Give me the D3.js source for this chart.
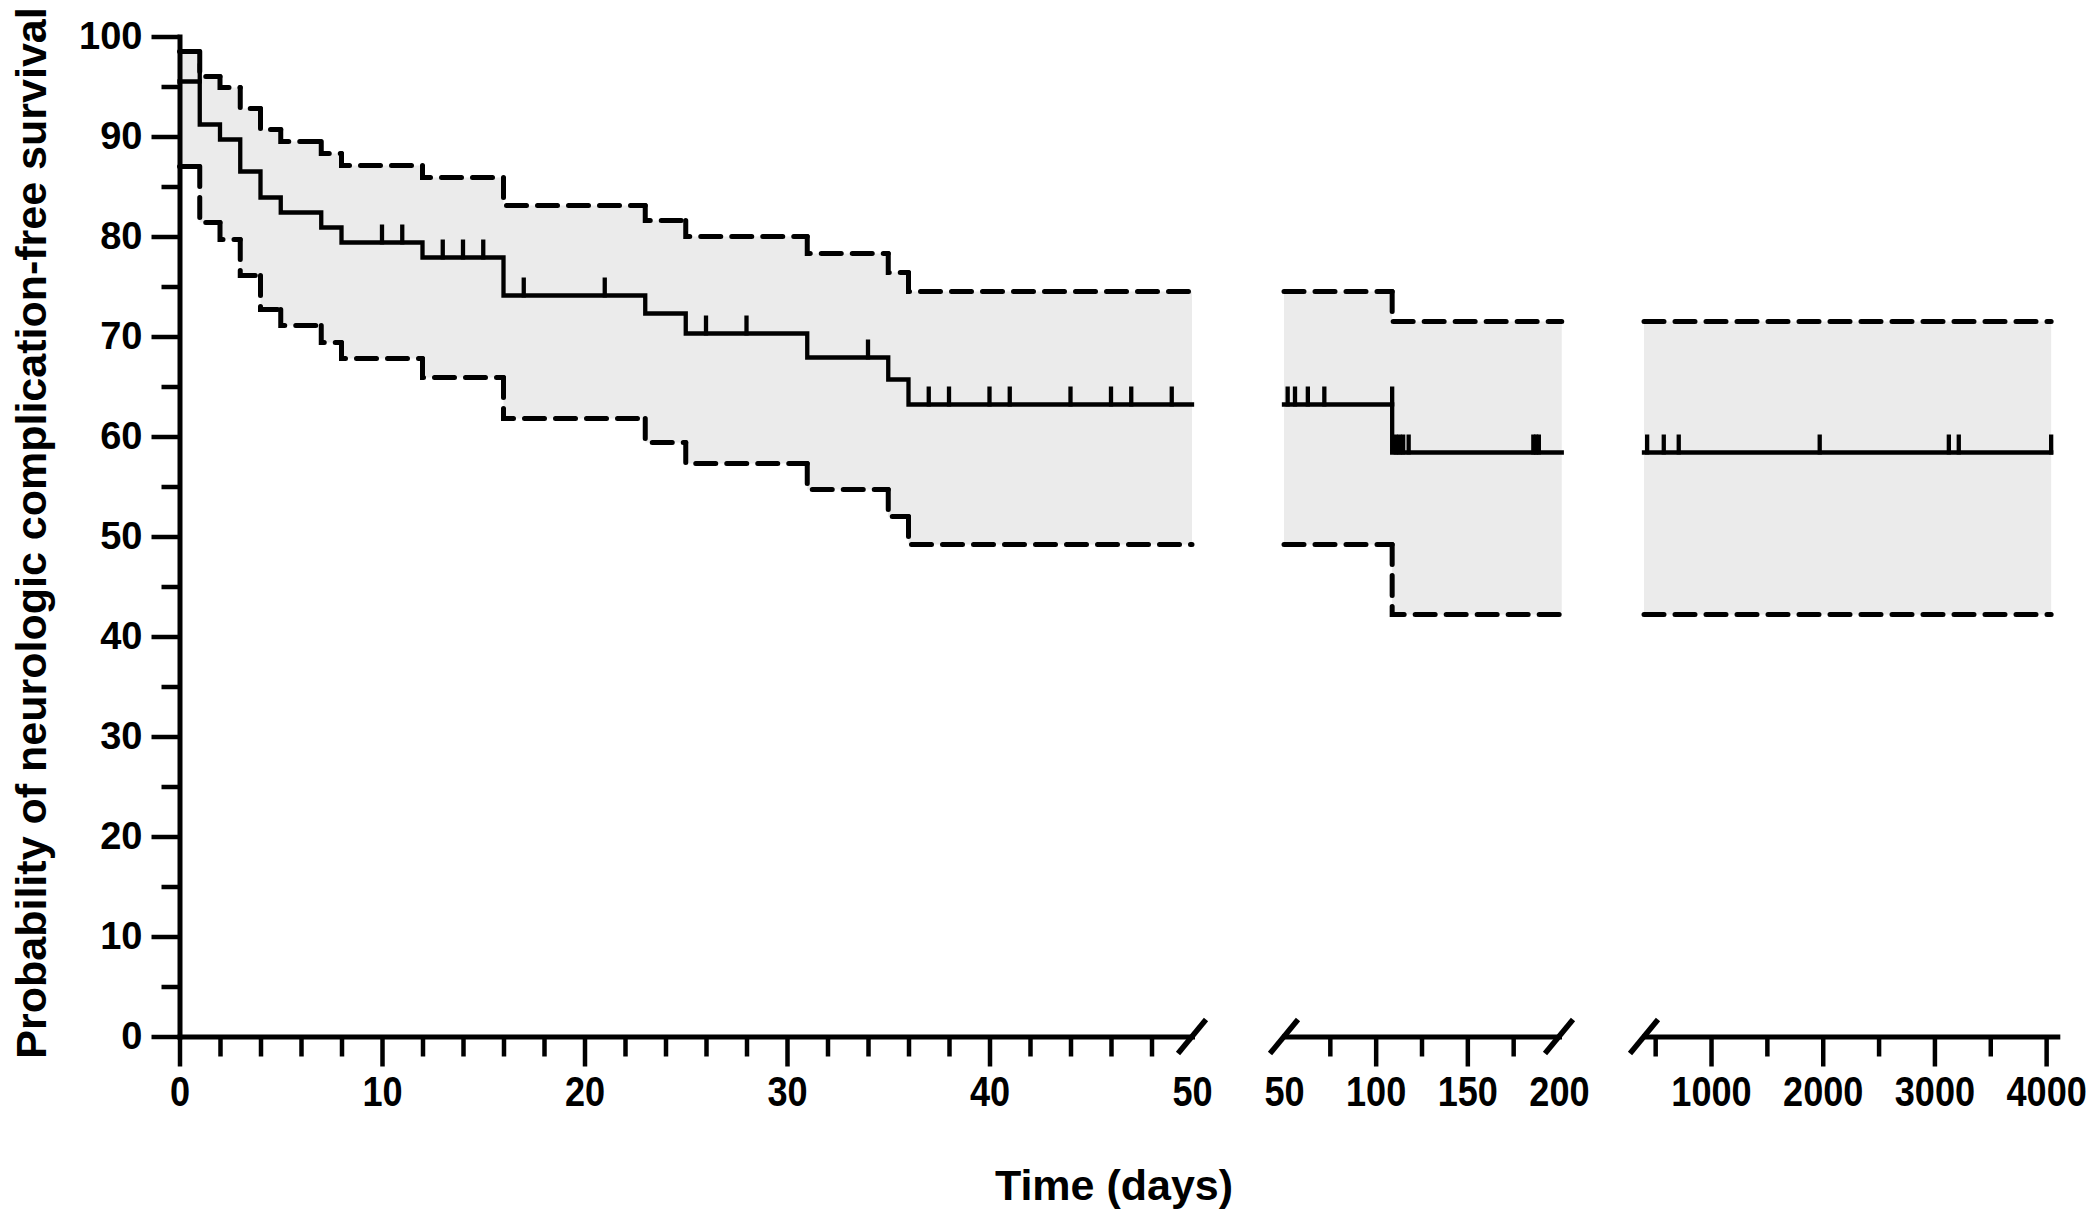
<!DOCTYPE html>
<html><head><meta charset="utf-8">
<script src="https://cdnjs.cloudflare.com/ajax/libs/d3/7.8.5/d3.min.js"></script>
<style>
html,body{margin:0;padding:0;background:#fff;}
svg{display:block;}
text{font-family:"Liberation Sans", Arial, Helvetica, sans-serif;font-weight:bold;fill:#000;}
</style></head><body>
<svg id="chart" width="2100" height="1225"></svg>
<script>
// ---------------- DATA ----------------
const stepTimes  = [0, 1, 2, 3, 4, 5, 7, 8, 12, 16, 23, 25, 31, 35, 36, 109];
const survival   = [95.5, 91.2, 89.7, 86.5, 83.9, 82.4, 80.9, 79.4, 77.9, 74.1, 72.3, 70.3, 67.9, 65.7, 63.2, 58.4];
const upperCI    = [98.5, 96.0, 94.9, 92.8, 90.7, 89.5, 88.3, 87.1, 85.9, 83.1, 81.6, 80.0, 78.3, 76.4, 74.5, 71.5];
const lowerCI    = [87.0, 81.4, 79.7, 76.1, 72.7, 71.1, 69.4, 67.8, 65.9, 61.8, 59.4, 57.3, 54.7, 52.0, 49.2, 42.2];
const censorTimes = [1, 10, 11, 13, 14, 15, 17, 21, 26, 28, 34, 37, 38, 40, 41, 44, 46, 47, 49,
                     52, 56, 63, 72, 109, 111, 113, 115, 118, 186, 187.5, 189,
                     428, 577, 711, 1973, 3129, 3218, 4045];
const yMajorTicks = [0, 10, 20, 30, 40, 50, 60, 70, 80, 90, 100];
const yMinorTicks = [5, 15, 25, 35, 45, 55, 65, 75, 85, 95];
const seg1Labels = [0, 10, 20, 30, 40, 50];
const seg1Minor  = [2, 4, 6, 8, 12, 14, 16, 18, 22, 24, 26, 28, 32, 34, 36, 38, 42, 44, 46, 48];
const seg2Labels = [50, 100, 150, 200];
const seg2Minor  = [75, 125, 175];
const seg3Labels = [1000, 2000, 3000, 4000];
const seg3Minor  = [500, 1500, 2500, 3500];
const segDomains = [[0, 50], [50, 200], [400, 4100]];
const segDataEnds = [50, 201.5, 4045];
const segLabels = [seg1Labels, seg2Labels, seg3Labels];
const segMinor = [seg1Minor, seg2Minor, seg3Minor];
const yTitle = "Probability of neurologic complication-free survival";
const xTitle = "Time (days)";

// ---------------- LAYOUT ----------------
const svg = d3.select("#chart");
const y0 = 1036.5, yTop = 36.5;
const segRanges = [[179.5, 1192], [1284, 1559], [1644, 2057.3]];
const y = d3.scaleLinear().domain([0, 100]).range([y0, yTop]);
const xs = segDomains.map((d, i) => d3.scaleLinear().domain(d).range(segRanges[i]));

const FILL = "#ebebeb";

function stepPoints(vals, a, b) {
  let idx = 0;
  for (let i = 0; i < stepTimes.length; i++) if (stepTimes[i] <= a) idx = i;
  const pts = [[a, vals[idx], vals[idx]]];
  for (let i = 0; i < stepTimes.length; i++) {
    if (stepTimes[i] > a && stepTimes[i] < b) pts.push([stepTimes[i], vals[i], vals[i - 1]]);
  }
  pts.push([b, pts[pts.length - 1][1], pts[pts.length - 1][1]]);
  return pts;
}
function valueBefore(t) {
  let idx = 0;
  for (let i = 0; i < stepTimes.length; i++) if (stepTimes[i] < t) idx = i;
  return survival[idx];
}

const gData = svg.append("g");
xs.forEach((x, si) => {
  const a = segDomains[si][0], b = segDataEnds[si];
  const up = stepPoints(upperCI, a, b), lo = stepPoints(lowerCI, a, b), su = stepPoints(survival, a, b);
  const area = d3.area().curve(d3.curveStepAfter)
    .x(d => x(d[0])).y0((d, i) => y(lo[i][1])).y1(d => y(d[1]));
  gData.append("path").attr("d", area(up)).attr("fill", FILL);
  [up, lo].forEach(pts => {
    for (let i = 0; i < pts.length - 1; i++) {
      const p = pts[i], q = pts[i + 1];
      let d = `M${x(p[0])},${y(p[2])}`;
      if (p[2] !== p[1]) d += `V${y(p[1])}`;
      d += `H${x(q[0])}`;
      gData.append("path").attr("d", d).attr("fill", "none").attr("stroke", "#000")
        .attr("stroke-width", 5).attr("stroke-linecap", "round").attr("stroke-linejoin", "miter")
        .attr("stroke-dasharray", "20 11");
    }
  });
  const line = d3.line().curve(d3.curveStepAfter).x(d => x(d[0])).y(d => y(d[1]));
  gData.append("path").attr("d", line(su)).attr("fill", "none").attr("stroke", "#000")
    .attr("stroke-width", 4.3).attr("stroke-linecap", "square");
  censorTimes.filter(t => t >= a && t <= b).forEach(t => {
    const v = valueBefore(t);
    gData.append("line").attr("x1", x(t)).attr("x2", x(t))
      .attr("y1", y(v) + 2).attr("y2", y(v) - 18)
      .attr("stroke", "#000").attr("stroke-width", 4.3);
  });
});

// ---------------- AXES ----------------
const gY = svg.append("g").attr("transform", `translate(${segRanges[0][0]},0)`);
gY.call(d3.axisLeft(y).tickValues(yMajorTicks).tickSize(28).tickPadding(9).tickSizeOuter(0));
gY.append("g").call(d3.axisLeft(y).tickValues(yMinorTicks).tickSize(18).tickFormat("").tickSizeOuter(0))
  .select(".domain").remove();
gY.selectAll("text").style("font-size", "38px").attr("fill", "#000");

xs.forEach((x, si) => {
  const g = svg.append("g").attr("transform", `translate(0,${y0})`);
  g.call(d3.axisBottom(x).tickValues(segLabels[si]).tickFormat(d3.format("d"))
    .tickSize(30).tickPadding(10).tickSizeOuter(0));
  const dom = segDomains[si];
  g.selectAll(".tick").filter(d => (si > 0 && d === dom[0]) || (si < 2 && d === dom[1]) || (si === 1 && d === 200))
    .select("line").remove();
  g.selectAll("text").style("font-size", "42px").attr("fill", "#000")
    .attr("transform", "scale(0.86,1)");
  g.append("g").call(d3.axisBottom(x).tickValues(segMinor[si]).tickSize(20).tickFormat("").tickSizeOuter(0))
    .select(".domain").remove();
});
svg.selectAll(".domain").attr("stroke-width", 5).attr("stroke", "#000").attr("stroke-linecap", "square");
svg.selectAll(".tick line").attr("stroke-width", 4.5).attr("stroke", "#000");

// break slashes
const breaks = [xs[0](50), xs[1](50), xs[1](200), xs[2](400)];
breaks.forEach(cx => {
  svg.append("line").attr("x1", cx - 14).attr("y1", y0 + 17).attr("x2", cx + 14).attr("y2", y0 - 17)
    .attr("stroke", "#000").attr("stroke-width", 5.5);
});

// titles
svg.append("text").attr("transform", "translate(46,533) rotate(-90)")
  .attr("text-anchor", "middle").style("font-size", "43px").text(yTitle);
svg.append("text").attr("x", 1114).attr("y", 1200)
  .attr("text-anchor", "middle").style("font-size", "43px").text(xTitle);
</script>
</body></html>
